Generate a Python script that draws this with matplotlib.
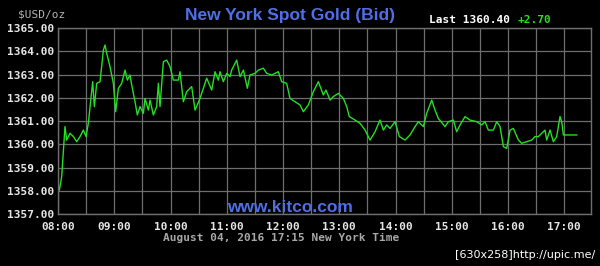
import matplotlib
matplotlib.use('Agg')
import matplotlib.pyplot as plt
import numpy as np

# time in decimal hours (New York), bid price in USD/oz
hours = [8.00, 8.024, 8.065, 8.124, 8.154, 8.213, 8.273, 8.332, 8.391, 8.450,
         8.498, 8.539, 8.616, 8.646, 8.687, 8.747, 8.806, 8.836, 8.865, 8.924,
         8.984, 9.025, 9.073, 9.132, 9.191, 9.233, 9.280, 9.310, 9.369, 9.410,
         9.458, 9.517, 9.547, 9.606, 9.636, 9.695, 9.754, 9.784, 9.813, 9.873,
         9.932, 9.991, 10.050, 10.139, 10.169, 10.228, 10.287, 10.376, 10.436, 10.524,
         10.643, 10.732, 10.791, 10.850, 10.880, 10.939, 10.999, 11.058, 11.087, 11.176,
         11.236, 11.295, 11.366, 11.413, 11.502, 11.561, 11.650, 11.710, 11.799, 11.917,
         11.976, 12.065, 12.124, 12.213, 12.302, 12.361, 12.450, 12.539, 12.628, 12.717,
         12.764, 12.836, 12.895, 12.984, 13.073, 13.132, 13.179,
         13.280, 13.369, 13.458, 13.547, 13.636, 13.724, 13.784, 13.843, 13.902, 13.991,
         14.068, 14.169, 14.258, 14.347, 14.406, 14.495, 14.554, 14.643, 14.702, 14.761,
         14.880, 14.939, 15.028, 15.087, 15.147, 15.236, 15.324, 15.443, 15.532, 15.591,
         15.650, 15.739, 15.799, 15.858,
         15.917, 15.976, 16.036, 16.095, 16.184, 16.243, 16.332, 16.421, 16.480, 16.539,
         16.599, 16.658, 16.687, 16.747, 16.806, 16.865, 16.924, 16.954, 16.984, 17.221]
price = [1358.25, 1358.03, 1358.61, 1360.76, 1360.18, 1360.47, 1360.33, 1360.11, 1360.33, 1360.61,
         1360.33, 1360.90, 1362.69, 1361.62, 1362.62, 1362.69, 1364.05, 1364.27, 1363.91, 1363.34,
         1362.62, 1361.40, 1362.41, 1362.62, 1363.19, 1362.76, 1362.98, 1362.55, 1361.83, 1361.26,
         1361.62, 1361.33, 1361.97, 1361.47, 1361.90, 1361.26, 1361.62, 1362.62, 1361.62, 1363.55,
         1363.62, 1363.34, 1362.76, 1362.76, 1363.12, 1361.83, 1362.26, 1362.48, 1361.47, 1361.97,
         1362.84, 1362.33, 1363.12, 1362.76, 1363.12, 1362.69, 1363.05, 1362.91, 1363.19, 1363.62,
         1362.91, 1363.19, 1362.41, 1362.98, 1363.05, 1363.19, 1363.27, 1363.05, 1362.98, 1363.12,
         1362.69, 1362.62, 1361.97, 1361.83, 1361.69, 1361.40, 1361.69, 1362.26, 1362.69, 1362.12,
         1362.33, 1361.90, 1362.05, 1362.19, 1361.97, 1361.62, 1361.19,
         1361.04, 1360.90, 1360.61, 1360.18, 1360.54, 1361.04, 1360.61, 1360.83, 1360.68, 1360.97,
         1360.33, 1360.18, 1360.40, 1360.76, 1360.97, 1360.76, 1361.33, 1361.90, 1361.47, 1361.11,
         1360.76, 1360.97, 1361.04, 1360.54, 1360.83, 1361.19, 1361.04, 1360.97, 1360.83, 1360.97,
         1360.61, 1360.61, 1360.97, 1360.76,
         1359.90, 1359.82, 1360.61, 1360.68, 1360.18, 1360.04, 1360.11, 1360.18, 1360.33, 1360.33,
         1360.47, 1360.61, 1360.18, 1360.61, 1360.11, 1360.33, 1361.19, 1360.97, 1360.40, 1360.40]

ytick_vals = [1357, 1358, 1359, 1360, 1361, 1362, 1363, 1364, 1365]
xtick_hours = [8, 9, 10, 11, 12, 13, 14, 15, 16, 17]
xtick_labels = ['08:00', '09:00', '10:00', '11:00', '12:00', '13:00', '14:00', '15:00', '16:00', '17:00']

mono = 'DejaVu Sans Mono'
grid_col = '#6e6e6e'
blue = '#4f6fe6'

fig = plt.figure(figsize=(6, 2.66), dpi=100, facecolor='black')
ax = fig.add_axes([0.0967, 0.1955, 0.8883, 0.6992])
ax.set_facecolor('black')

ax.plot(hours, price, color='#22e022', lw=1.0)

ax.set_xlim(8, 17.475)
ax.set_ylim(1357, 1365)
ax.set_yticks(ytick_vals)
ax.set_yticklabels(['%.2f' % v for v in ytick_vals], fontfamily=mono,
                   fontweight='bold', fontsize=8, color='#e6e6e6')
ax.set_xticks(xtick_hours)
ax.set_xticklabels(xtick_labels, fontfamily=mono, fontweight='bold',
                   fontsize=8, color='#e6e6e6')
ax.set_xticks(np.arange(8.5, 17.5, 1.0), minor=True)
ax.tick_params(which='both', length=0)
ax.tick_params(axis='y', pad=3)
ax.tick_params(axis='x', pad=6)
ax.grid(which='both', color=grid_col, lw=0.9)
for s in ax.spines.values():
    s.set_color(grid_col)
    s.set_linewidth(1.0)

fig.text(0.03, 0.945, '$USD/oz', fontfamily=mono, fontsize=8, color='#b4b4b4',
         ha='left', va='center')
fig.text(0.484, 0.94, 'New York Spot Gold (Bid)', fontfamily='Liberation Sans',
         fontweight='bold', fontsize=12.5, color=blue, ha='center', va='center')
fig.text(0.715, 0.925, 'Last 1360.40', fontfamily=mono, fontweight='bold',
         fontsize=8, color='white', ha='left', va='center')
fig.text(0.862, 0.925, '+2.70', fontfamily=mono, fontweight='bold',
         fontsize=8, color='#22e022', ha='left', va='center')
ax.text(0.435, 0.035, 'www.kitco.com', transform=ax.transAxes,
        fontfamily='Liberation Sans', fontweight='bold', fontsize=12.5,
        color=blue, ha='center', va='center')
fig.text(0.468, 0.106, 'August 04, 2016 17:15 New York Time', fontfamily=mono,
         fontweight='bold', fontsize=8, color='#a8a8a8', ha='center', va='center')
fig.text(0.992, 0.04, '[630x258]http://upic.me/', fontfamily='DejaVu Sans',
         fontsize=8, color='white', ha='right', va='center')

fig.savefig('out.png', dpi=100, facecolor='black')
